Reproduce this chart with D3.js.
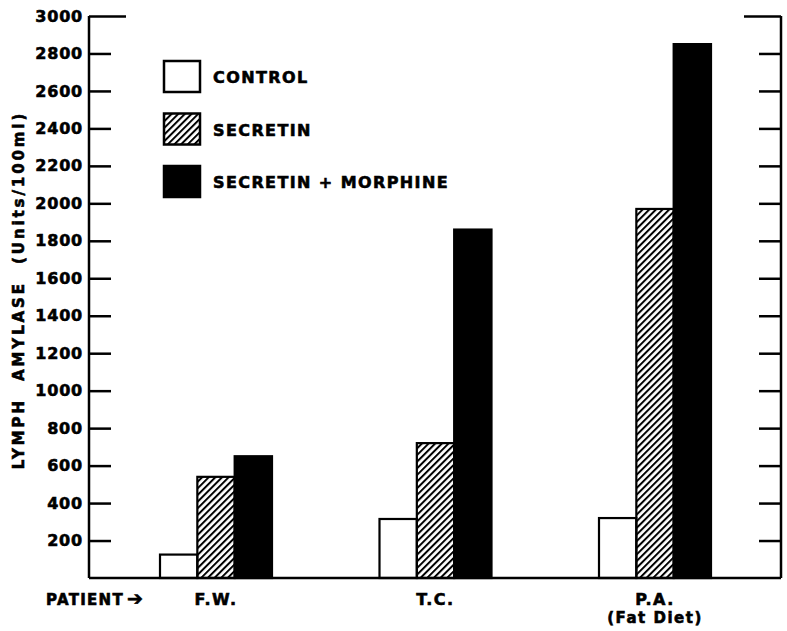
<!DOCTYPE html>
<html>
<head>
<meta charset="utf-8">
<script src="https://cdn.jsdelivr.net/npm/d3@7"></script>
<style>
  body { margin: 0; background: #fff; }
  svg { display: block; }
  text { font-family: "DejaVu Sans", sans-serif; font-weight: bold; fill: #000; stroke: #000; stroke-width: 0.6px; }
</style>
</head>
<body>
<div id="vis"></div>
<script>
const patients = ['F.W.', 'T.C.', 'P.A.'];
const series = ['CONTROL', 'SECRETIN', 'SECRETIN + MORPHINE'];
const control = [125, 315, 320];
const secretin = [540, 720, 1970];
const morphine = [650, 1860, 2850];
const yTicks = [200, 400, 600, 800, 1000, 1200, 1400, 1600, 1800, 2000, 2200, 2400, 2600, 2800, 3000];

const width = 787;
const height = 631;
const plot = { left: 89, right: 781, top: 16, bottom: 578 };

const svg = d3.select('#vis')
              .append('svg')
                .attr('width', width)
                .attr('height', height);

const defs = svg.append('defs');
defs.append('pattern')
    .attr('id', 'hatch')
    .attr('patternUnits', 'userSpaceOnUse')
    .attr('width', 4.7)
    .attr('height', 10)
    .attr('patternTransform', 'rotate(45)')
  .append('line')
    .attr('x1', 1).attr('x2', 1)
    .attr('y1', 0).attr('y2', 10)
    .attr('stroke', '#000')
    .attr('stroke-width', 2);

const fills = ['#fff', 'url(#hatch)', '#000'];

const y = d3.scaleLinear().domain([0, 3000]).range([plot.bottom, plot.top]);
const x0 = d3.scalePoint().domain(patients).range([216, 655]);
const x1 = d3.scaleBand().domain(series).range([-56, 56]);

// bars
const values = [control, secretin, morphine];
series.forEach(function (s, si) {
  svg.append('g')
    .selectAll('rect')
    .data(patients)
    .join('rect')
      .attr('x', (p) => x0(p) + x1(s))
      .attr('y', (p, i) => y(values[si][i]))
      .attr('width', x1.bandwidth())
      .attr('height', (p, i) => plot.bottom - y(values[si][i]))
      .attr('fill', fills[si])
      .attr('stroke', '#000')
      .attr('stroke-width', 2.2);
});

// left axis, ticks pointing inward
const yAxisL = d3.axisLeft(y).tickValues(yTicks).tickFormat(d3.format('d'))
                 .tickSize(-22).tickSizeOuter(0).tickPadding(6);
const gl = svg.append('g')
    .attr('transform', 'translate(' + plot.left + ',0)')
    .call(yAxisL);
gl.select('.domain').attr('stroke-width', 2.5).attr('d', 'M0,' + plot.top + 'V' + plot.bottom);
gl.selectAll('.tick line').attr('stroke-width', 2.5);
gl.selectAll('.tick').filter((d) => d === 3000).select('line').attr('x2', 37);
gl.selectAll('.tick text')
    .attr('font-size', 16)
    .attr('letter-spacing', 0.8)
    .style('font-family', '"DejaVu Sans", sans-serif')
    .style('font-weight', 'bold');

// right axis, no labels
const yAxisR = d3.axisRight(y).tickValues(yTicks).tickSize(-22).tickSizeOuter(0).tickFormat('');
const gr = svg.append('g')
    .attr('transform', 'translate(' + plot.right + ',0)')
    .call(yAxisR);
gr.select('.domain').attr('stroke-width', 2.5).attr('d', 'M0,' + plot.top + 'V' + plot.bottom);
gr.selectAll('.tick line').attr('stroke-width', 2.5);
gr.selectAll('.tick').filter((d) => d === 3000).select('line').attr('x2', -37);

// baseline
svg.append('line')
    .attr('x1', plot.left).attr('x2', plot.right)
    .attr('y1', plot.bottom).attr('y2', plot.bottom)
    .attr('stroke', '#000')
    .attr('stroke-width', 2.5);

// y title
svg.append('text')
    .attr('transform', 'translate(24,290) rotate(-90)')
    .attr('text-anchor', 'middle')
    .attr('font-size', 15)
    .attr('letter-spacing', 2.9)
    .attr('word-spacing', 9)
    .text('LYMPH AMYLASE (Units/100ml)');

// x labels
const pat = svg.append('text')
    .attr('x', 46).attr('y', 605)
    .attr('font-size', 15)
    .attr('letter-spacing', 1.3)
    .text('PATIENT');
pat.append('tspan')
    .attr('font-size', 19)
    .attr('dx', 3)
    .text('\u2794');

svg.selectAll('.plabel')
  .data(patients)
  .join('text')
    .attr('class', 'plabel')
    .attr('x', (p) => x0(p))
    .attr('y', 605)
    .attr('text-anchor', 'middle')
    .attr('font-size', 16)
    .attr('letter-spacing', 1.5)
    .text((p) => p);

svg.append('text')
    .attr('x', x0('P.A.'))
    .attr('y', 623)
    .attr('text-anchor', 'middle')
    .attr('font-size', 15)
    .attr('letter-spacing', 1.5)
    .text('(Fat Diet)');

// legend
const legend = svg.append('g')
    .selectAll('g')
    .data(series)
    .join('g')
      .attr('transform', (d, i) => 'translate(164,' + (61 + i * 52.5) + ')');

legend.append('rect')
    .attr('width', 36)
    .attr('height', 31)
    .attr('fill', (d, i) => fills[i])
    .attr('stroke', '#000')
    .attr('stroke-width', 2.5);

legend.append('text')
    .attr('x', 49)
    .attr('y', 22)
    .attr('font-size', 16)
    .attr('letter-spacing', 1.4)
    .text((d) => d);
</script>
</body>
</html>
